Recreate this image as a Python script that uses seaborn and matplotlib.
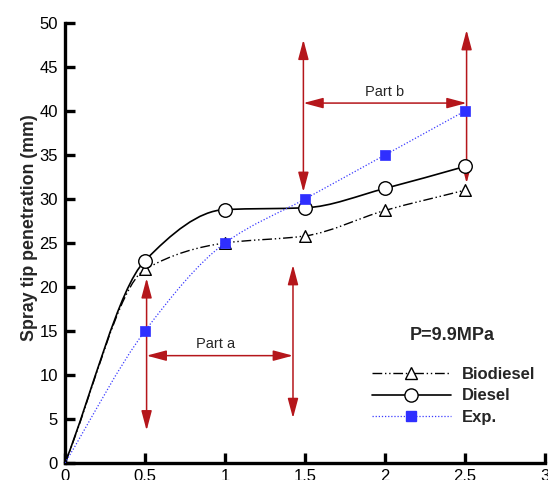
import numpy as np
import matplotlib
matplotlib.use("Agg")
import matplotlib.pyplot as plt
import seaborn as sns
from matplotlib.path import Path
from matplotlib.patches import PathPatch, FancyArrowPatch
from matplotlib.lines import Line2D

# injection time (ms) and spray tip penetration (mm)
time_ms = [0, 0.5, 1, 1.5, 2, 2.5]
biodiesel = [0, 22.0, 25.0, 25.8, 28.7, 31.0]
diesel = [0, 23.0, 28.8, 29.0, 31.2, 33.7]
experiment = [0, 15.0, 25.0, 30.0, 35.0, 40.0]

x_ticks = [0, 0.5, 1, 1.5, 2, 2.5, 3]
x_tick_labels = ["0", "0.5", "1", "1.5", "2", "2.5", "3"]
y_ticks = [0, 5, 10, 15, 20, 25, 30, 35, 40, 45, 50]

RED = "#b5161b"


def smooth_path(x, y):
    # monotone cubic (pchip-like) bezier path through the points
    x = np.asarray(x, float)
    y = np.asarray(y, float)
    h = np.diff(x)
    d = np.diff(y) / h
    m = np.zeros_like(x)
    m[0] = d[0]
    m[-1] = d[-1]
    for k in range(1, len(x) - 1):
        if d[k - 1] * d[k] > 0:
            w1 = 2 * h[k] + h[k - 1]
            w2 = h[k] + 2 * h[k - 1]
            m[k] = (w1 + w2) / (w1 / d[k - 1] + w2 / d[k])
    verts = [(x[0], y[0])]
    codes = [Path.MOVETO]
    for i in range(len(x) - 1):
        verts += [(x[i] + h[i] / 3, y[i] + m[i] * h[i] / 3),
                  (x[i + 1] - h[i] / 3, y[i + 1] - m[i + 1] * h[i] / 3),
                  (x[i + 1], y[i + 1])]
        codes += [Path.CURVE4] * 3
    return Path(verts, codes)


def arrow(ax, p1, p2):
    ax.add_patch(FancyArrowPatch(p1, p2, arrowstyle="<|-|>,head_length=0.6,head_width=0.16",
                                 mutation_scale=20, color=RED, lw=1.1,
                                 shrinkA=0, shrinkB=0, zorder=2))


sns.set_style("ticks")
plt.rcParams["font.family"] = ["Liberation Sans", "DejaVu Sans"]

fig = plt.figure(figsize=(5.48, 4.8), dpi=100)
ax = fig.add_axes([0.1186, 0.0354, 0.8759, 0.9167])

styles = [
    (biodiesel, dict(color="black", lw=1.0, ls=(0, (7, 2, 1, 2, 1, 2))),
     dict(marker="^", s=70, facecolor="white", edgecolor="black", linewidth=1.0)),
    (diesel, dict(color="black", lw=1.2, ls="-"),
     dict(marker="o", s=95, facecolor="white", edgecolor="black", linewidth=1.0)),
    (experiment, dict(color="#3a3aff", lw=0.9, ls=(0, (1, 1.5))),
     dict(marker="s", s=50, facecolor="#2f2fff", edgecolor="#2f2fff", linewidth=0.5)),
]

for values, line_kw, mark_kw in styles:
    ax.add_patch(PathPatch(smooth_path(time_ms, values), fill=False, zorder=3, **line_kw))
    sns.scatterplot(x=time_ms[1:], y=values[1:], ax=ax, zorder=4, **mark_kw)

# part a / part b arrows
arrow(ax, (0.51, 3.7), (0.51, 21.0))
arrow(ax, (1.425, 5.1), (1.425, 22.5))
arrow(ax, (0.51, 12.2), (1.425, 12.2))
ax.text(0.94, 12.7, "Part a", ha="center", va="bottom", fontsize=10.5)

arrow(ax, (1.49, 30.8), (1.49, 48.1))
arrow(ax, (2.51, 31.8), (2.51, 49.2))
arrow(ax, (1.49, 40.9), (2.51, 40.9))
ax.text(2.0, 41.4, "Part b", ha="center", va="bottom", fontsize=10.5)

ax.set_xlim(0, 3)
ax.set_ylim(0, 50)
ax.set_xticks(x_ticks)
ax.set_xticklabels(x_tick_labels)
ax.set_yticks(y_ticks)
ax.tick_params(direction="in", length=7, width=2.4, labelsize=12, pad=4, colors="black")
ax.tick_params(axis="y", pad=5)
for side in ["left", "bottom"]:
    ax.spines[side].set_linewidth(2.4)
    ax.spines[side].set_color("black")
sns.despine(ax=ax)
for sp in ["left", "bottom"]:
    ax.spines[sp].set_clip_on(False)

ax.set_ylabel("Spray tip penetration (mm)", fontsize=12.8, fontweight="bold")
ax.yaxis.set_label_coords(-0.056, 0.534)

ax.text(0.806, 0.289, "P=9.9MPa", transform=ax.transAxes, ha="center", va="center",
        fontsize=13, fontweight="bold")

handles = [
    Line2D([], [], color="black", lw=1.0, ls=(0, (7, 2, 1, 2, 1, 2)), marker="^",
           markersize=8, markerfacecolor="white", markeredgecolor="black"),
    Line2D([], [], color="black", lw=1.2, marker="o", markersize=9.5,
           markerfacecolor="white", markeredgecolor="black"),
    Line2D([], [], color="#3a3aff", lw=0.9, ls=(0, (1, 1.5)), marker="s", markersize=6.5,
           markerfacecolor="#2f2fff", markeredgecolor="#2f2fff"),
]
ax.legend(handles, ["Biodiesel", "Diesel", "Exp."], loc="upper left",
          bbox_to_anchor=(0.64, 0.219), frameon=False, borderpad=0, borderaxespad=0,
          handlelength=4.7, handletextpad=0.7, labelspacing=0.41,
          prop={"weight": "bold", "size": 12})

fig.savefig("out.png", dpi=100)
